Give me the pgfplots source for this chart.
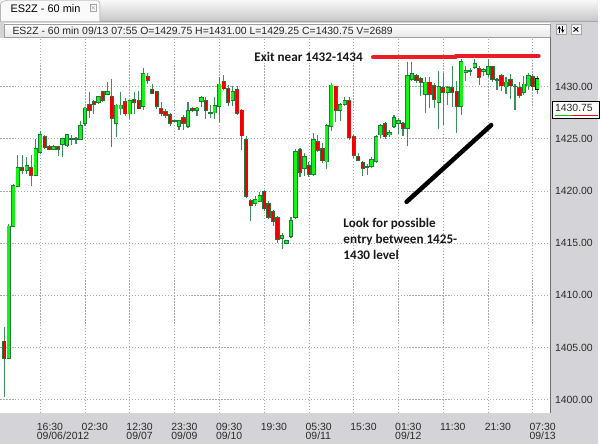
\documentclass[border=0pt]{standalone}
\usepackage{pgfplots}
\pgfplotsset{compat=1.18}
\usepackage{pgfplotstable}
\usepackage{fontspec}
\setmainfont{Liberation Sans}
\newfontfamily\carlito{Carlito}
\definecolor{panel}{HTML}{D4D4D8}
\definecolor{candleG}{HTML}{11F511}
\definecolor{candleR}{HTML}{EE0000}
\definecolor{outl}{HTML}{1E7A3A}
\definecolor{wickc}{HTML}{3E8E5C}
\definecolor{gridc}{HTML}{A8A8A8}
\definecolor{lblc}{HTML}{2A2A2A}
\definecolor{exitred}{HTML}{EE1C25}
\pgfplotstableread{
i o h l c
0 1405.6 1407.0 1400.3 1404.0
1 1404.0 1416.8 1404.0 1416.6
2 1416.6 1420.7 1416.5 1420.5
3 1420.5 1423.4 1420.4 1422.2
4 1422.2 1423.4 1421.6 1422.0
5 1422.0 1423.2 1421.6 1422.4
6 1422.2 1423.4 1420.5 1421.5
7 1421.5 1425.0 1421.4 1424.0
8 1423.7 1425.7 1423.5 1425.4
9 1425.2 1425.4 1424.0 1424.2
10 1424.2 1424.4 1423.9 1424.0
11 1424.0 1424.4 1423.9 1424.2
12 1424.2 1424.3 1423.3 1424.0
13 1424.5 1425.1 1423.2 1425.0
14 1424.4 1425.5 1424.2 1425.4
15 1425.0 1425.4 1424.4 1425.0
16 1425.0 1425.2 1424.5 1425.0
17 1425.0 1426.7 1424.9 1426.2
18 1426.5 1428.0 1426.2 1427.9
19 1428.2 1429.5 1427.0 1427.7
20 1428.5 1428.7 1427.4 1428.3
21 1428.5 1429.1 1428.3 1429.0
22 1429.5 1429.6 1428.5 1428.7
23 1429.3 1430.4 1429.2 1429.5
24 1429.0 1430.7 1424.2 1427.0
25 1426.5 1428.3 1425.2 1428.2
26 1427.9 1429.5 1427.3 1428.2
27 1428.5 1428.9 1427.2 1427.4
28 1427.4 1428.7 1426.9 1428.6
29 1428.7 1429.5 1427.4 1428.5
30 1428.6 1429.6 1427.8 1427.9
31 1428.1 1431.8 1427.7 1431.2
32 1430.9 1431.3 1430.2 1430.6
33 1429.7 1430.2 1429.3 1429.4
34 1429.5 1429.6 1427.9 1428.1
35 1427.9 1428.5 1427.2 1427.5
36 1427.6 1427.8 1427.0 1427.3
37 1427.3 1427.5 1426.2 1426.5
38 1426.7 1426.8 1426.6 1426.7
39 1426.2 1426.8 1425.8 1426.7
40 1427.0 1427.3 1425.8 1426.5
41 1426.2 1428.5 1426.0 1427.7
42 1427.9 1428.0 1427.6 1427.7
43 1427.7 1428.0 1427.2 1427.9
44 1428.6 1429.1 1428.0 1428.9
45 1428.6 1429.0 1426.9 1427.7
46 1427.5 1428.2 1427.0 1427.5
47 1427.5 1429.0 1426.9 1428.1
48 1428.1 1430.9 1426.6 1430.2
49 1430.4 1431.1 1429.7 1429.8
50 1429.8 1430.1 1428.1 1428.5
51 1428.7 1430.0 1428.1 1429.5
52 1429.7 1430.0 1427.3 1427.5
53 1427.7 1427.9 1423.9 1425.3
54 1424.9 1425.3 1419.3 1419.5
55 1419.0 1419.2 1417.1 1418.6
56 1418.8 1419.5 1418.6 1419.1
57 1419.0 1419.9 1418.9 1419.5
58 1419.9 1420.1 1418.1 1418.3
59 1418.8 1419.0 1417.3 1417.5
60 1418.0 1418.2 1416.6 1417.1
61 1417.4 1417.6 1415.0 1415.4
62 1415.5 1416.0 1414.4 1415.7
63 1415.0 1415.3 1414.9 1415.2
64 1415.7 1417.5 1415.5 1417.1
65 1417.5 1424.0 1417.3 1423.7
66 1423.9 1424.1 1421.3 1421.8
67 1422.2 1423.6 1421.4 1423.3
68 1422.4 1422.8 1421.3 1421.6
69 1421.6 1425.5 1421.4 1424.9
70 1424.7 1425.4 1423.7 1423.9
71 1424.0 1424.6 1422.7 1422.9
72 1422.8 1426.4 1422.1 1426.2
73 1426.2 1430.3 1425.7 1430.1
74 1430.0 1430.1 1426.6 1427.7
75 1427.7 1428.4 1426.7 1428.2
76 1428.3 1429.0 1428.1 1428.6
77 1428.6 1429.0 1424.9 1425.1
78 1425.2 1425.4 1423.2 1423.4
79 1423.3 1423.6 1422.9 1423.0
80 1422.7 1422.9 1421.4 1422.2
81 1422.3 1422.6 1421.5 1422.3
82 1422.4 1423.2 1422.2 1423.0
83 1422.9 1425.4 1422.7 1425.2
84 1425.4 1426.4 1425.1 1426.2
85 1426.4 1426.6 1425.0 1425.2
86 1425.4 1425.8 1425.2 1425.6
87 1426.2 1427.3 1426.0 1427.0
88 1426.5 1427.0 1425.5 1426.7
89 1426.4 1426.6 1425.3 1426.0
90 1426.0 1432.4 1424.3 1431.0
91 1430.7 1432.4 1430.5 1431.2
92 1431.0 1431.2 1430.3 1430.6
93 1430.7 1430.9 1429.1 1430.4
94 1429.3 1430.9 1427.5 1430.4
95 1430.4 1430.9 1427.9 1429.3
96 1430.1 1430.3 1427.9 1428.8
97 1428.5 1431.5 1425.9 1430.0
98 1429.9 1431.3 1426.3 1429.5
99 1429.5 1430.0 1428.2 1429.9
100 1429.9 1432.0 1428.0 1429.5
101 1429.5 1430.5 1425.5 1428.1
102 1428.1 1432.6 1427.3 1432.4
103 1431.4 1432.0 1430.5 1431.5
104 1431.5 1431.8 1431.0 1431.5
105 1431.9 1432.6 1431.7 1432.2
106 1431.7 1432.0 1430.1 1430.9
107 1431.5 1431.8 1431.0 1431.6
108 1431.2 1432.6 1430.9 1431.9
109 1431.9 1432.0 1430.4 1430.7
110 1430.6 1430.8 1429.7 1430.6
111 1431.0 1431.2 1429.6 1430.1
112 1430.0 1430.9 1429.3 1430.4
113 1430.6 1431.2 1428.8 1430.1
114 1430.0 1430.2 1427.8 1430.0
115 1429.9 1430.4 1428.9 1429.2
116 1429.5 1431.0 1429.2 1430.2
117 1430.1 1431.3 1429.7 1431.0
118 1430.9 1431.2 1429.6 1430.0
}\candles
\pgfplotstableread{
i o h l c
119 1429.75 1431.0 1429.25 1430.75
}\lastcandle
\pgfplotsset{
  ebar/.style 2 args={draw=none, mark=none, forget plot,
    error bars/.cd, y dir=both, y explicit, error mark=none,
    error bar style={line width=#1, draw=#2, solid}},
}
\begin{document}
\begin{tikzpicture}[x=1pt,y=1pt]
% window background
\fill[panel] (0,0) rectangle (600,446);
\shade[top color=white!95!gray, bottom color=panel!85!gray] (0,425) rectangle (600,446);
\draw[gray!70] (0,424.5) -- (600,424.5);
% tab
\draw[fill=white!96!gray, draw=gray!80] (0,424.5) -- (0,441) to[out=90,in=180] (8,445.5) -- (98,445.5) -- (100,443) -- (100,424.5);
\node[anchor=west, inner sep=0pt, font=\fontsize{11}{12}\selectfont, text=black] at (10,437) {ES2Z - 60 min};
\draw[gray!70, line width=0.5pt] (90,435) rectangle (96.5,441.5);
\draw[gray!70, line width=0.4pt] (91.5,436.5) -- (95,440) (91.5,440) -- (95,436.5);
% title bar
\shade[top color=white, bottom color=gray!18] (4,409) rectangle (552,422);
\draw[gray!75] (4,409) rectangle (552,422);
\node[anchor=west, inner sep=0pt, font=\fontsize{10.5}{12}\selectfont, text=black!85] at (12,415.5) {ES2Z - 60 min 09/13 07:55 O=1429.75 H=1431.00 L=1429.25 C=1430.75 V=2689};
% icons
\draw[fill=gray!8, draw=gray!70] (558,411.5) rectangle (568.5,421.5);
\draw[black, line width=0.6pt,->,>=stealth] (561.5,413) -- (561.5,420);
\draw[black, line width=0.6pt,->,>=stealth] (565,420) -- (565,413);
\draw[fill=gray!8, draw=gray!70] (573,411.5) rectangle (583.5,421.5);
\draw[black, line width=0.9pt] (575.8,414.3) -- (580.7,418.7) (575.8,418.7) -- (580.7,414.3);
\begin{axis}[
  at={(0pt,31pt)}, anchor=south west, scale only axis,
  width=552.5pt, height=377pt,
  xmin=-0.89, xmax=121.9, ymin=1398.72, ymax=1434.66,
  axis line style={draw=none},
  axis background/.style={fill=white},
  xtick={8,18,28,38,48,58,68,78,88,98,108,118},
  xticklabels={16:30\\09/06/2012, 02:30, 12:30\\09/07, 23:30\\09/09, 09:30\\09/10, 19:30, 05:30\\09/11, 15:30, 01:30\\09/12, 11:30, 21:30, 07:30\\09/13},
  ytick={1400,1405,1410,1415,1420,1425,1430},
  yticklabels={1400.00,1405.00,1410.00,1415.00,1420.00,1425.00,1430.00},
  yticklabel pos=right,
  major tick length=0pt,
  grid=major,
  grid style={gridc, dash pattern=on 1.2pt off 1.8pt, line width=0.75pt},
  tick label style={font=\fontsize{10.5}{10}\selectfont, text=lblc},
  xticklabel style={anchor=north west, align=left, inner sep=0pt, xshift=-3.5pt, yshift=-9.5pt,
    font=\fontsize{10.5}{9.8}\selectfont},
  yticklabel style={anchor=west, inner sep=0pt, xshift=4.5pt},
  clip=true,
]
% wicks
\addplot[ebar={1.1pt}{wickc}]
  table[x=i, y expr={(\thisrow{h}+\thisrow{l})/2}, y error expr={(\thisrow{h}-\thisrow{l})/2}] {\candles};
\addplot[ebar={1.1pt}{wickc}]
  table[x=i, y expr={(\thisrow{h}+\thisrow{l})/2}, y error expr={(\thisrow{h}-\thisrow{l})/2}] {\lastcandle};
% body outlines
\addplot[ebar={4.3pt}{outl}]
  table[x=i, y expr={(\thisrow{o}+\thisrow{c})/2}, y error expr={abs(\thisrow{c}-\thisrow{o})/2+0.08}] {\candles};
\addplot[ebar={4.3pt}{black}]
  table[x=i, y expr={(\thisrow{o}+\thisrow{c})/2}, y error expr={abs(\thisrow{c}-\thisrow{o})/2+0.08}] {\lastcandle};
% green bodies
\addplot[restrict expr to domain={\thisrow{c}-\thisrow{o}}{0.001:100}, ebar={2.8pt}{candleG}]
  table[x=i, y expr={(\thisrow{o}+\thisrow{c})/2}, y error expr={abs(\thisrow{c}-\thisrow{o})/2}] {\candles};
\addplot[ebar={2.8pt}{candleG}]
  table[x=i, y expr={(\thisrow{o}+\thisrow{c})/2}, y error expr={abs(\thisrow{c}-\thisrow{o})/2}] {\lastcandle};
% red bodies
\addplot[restrict expr to domain={\thisrow{c}-\thisrow{o}}{-100:-0.001}, ebar={2.8pt}{candleR}]
  table[x=i, y expr={(\thisrow{o}+\thisrow{c})/2}, y error expr={abs(\thisrow{c}-\thisrow{o})/2}] {\candles};
% annotations
\addplot[exitred, line width=4pt, line cap=round, forget plot] coordinates {(82.3,1432.82) (100.8,1432.82)};
\addplot[exitred, line width=4pt, line cap=round, forget plot] coordinates {(100.8,1432.92) (119.3,1432.92)};
\addplot[black, line width=4.5pt, line cap=round, forget plot] coordinates {(89.8,1418.95) (108.7,1426.3)};
\end{axis}
% plot frame right border
\draw[gray!85!black, line width=0.8pt] (552.8,31) -- (552.8,408.5);
% exit note
\node[anchor=west, inner sep=0pt, font=\carlito\bfseries\fontsize{13.2}{14}\selectfont, text=black!90] at (255,388.5) {Exit near 1432-1434};
\node[anchor=north west, inner sep=0pt, align=left, font=\carlito\bfseries\fontsize{13.2}{16}\selectfont, text=black!90] at (344.5,226.5) {Look for possible\\entry between 1425-\\1430 level};
% price tag
\fill[white] (554.5,327) rectangle (602,344);
\draw[black, line width=0.8pt] (554.5,327) rectangle (602,344);
\node[anchor=west, inner sep=0pt, font=\fontsize{10.5}{12}\selectfont, text=lblc] at (557,337.5) {1430.75};
\draw[green!75!black, line width=1.2pt] (557,330) -- (574,330);
\draw[red, line width=1.2pt] (574,330) -- (600,330);
\end{tikzpicture}
\end{document}
